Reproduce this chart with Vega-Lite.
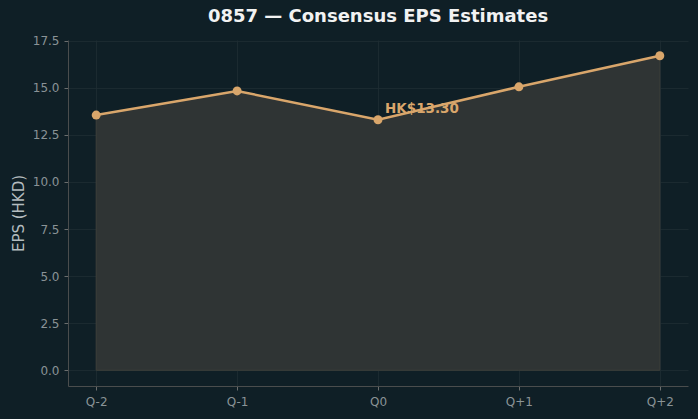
{
  "$schema": "https://vega.github.io/schema/vega-lite/v6.json",
  "width": 620,
  "height": 346,
  "autosize": {"type": "none"},
  "padding": {"left": 68, "top": 40, "right": 10, "bottom": 33},
  "background": "#0f1f26",
  "config": {
    "view": {"stroke": null},
    "font": "DejaVu Sans",
    "axis": {
      "domainColor": "#4a4d4d",
      "tickColor": "#6a6d6d",
      "tickSize": 4,
      "labelColor": "#8a9396",
      "labelFont": "DejaVu Sans",
      "labelFontSize": 12,
      "gridColor": "#1e2d33",
      "gridOpacity": 1,
      "gridWidth": 0.8,
      "titleColor": "#b4bcbf",
      "titleFont": "DejaVu Sans",
      "titleFontWeight": "normal",
      "titleFontSize": 15
    }
  },
  "title": {
    "text": "0857 — Consensus EPS Estimates",
    "color": "#f2f2f2",
    "fontSize": 18,
    "fontWeight": "bold",
    "font": "DejaVu Sans",
    "anchor": "middle",
    "offset": 9
  },
  "data": {
    "values": [
      {"q": "Q-2", "eps": 13.55},
      {"q": "Q-1", "eps": 14.83},
      {"q": "Q0", "eps": 13.3, "label": "HK$13.30"},
      {"q": "Q+1", "eps": 15.05},
      {"q": "Q+2", "eps": 16.7}
    ]
  },
  "encoding": {
    "x": {
      "field": "q",
      "type": "ordinal",
      "sort": null,
      "scale": {"type": "point", "padding": 0.2},
      "axis": {"title": null, "labelAngle": 0, "grid": true, "labelPadding": 6}
    },
    "y": {
      "field": "eps",
      "type": "quantitative",
      "scale": {"domain": [-0.835, 17.535], "nice": false, "zero": false},
      "axis": {
        "title": "EPS (HKD)",
        "values": [0, 2.5, 5, 7.5, 10, 12.5, 15, 17.5],
        "format": ".1f",
        "grid": true,
        "labelPadding": 5,
        "titlePadding": 6
      }
    }
  },
  "layer": [
    {
      "mark": {"type": "area", "color": "#2f3434", "stroke": "#3d3f3a", "strokeWidth": 1},
      "encoding": {"y2": {"datum": 0}}
    },
    {
      "mark": {"type": "line", "color": "#d9a66b", "strokeWidth": 2.5}
    },
    {
      "mark": {"type": "point", "filled": true, "color": "#d9a66b", "size": 80, "opacity": 1}
    },
    {
      "transform": [{"filter": "datum.label != null"}],
      "mark": {"type": "text", "color": "#d9a66b", "fontWeight": "bold", "fontSize": 13.5, "align": "left", "baseline": "middle", "dx": 7, "dy": -11, "font": "DejaVu Sans"},
      "encoding": {"text": {"field": "label"}}
    }
  ]
}
